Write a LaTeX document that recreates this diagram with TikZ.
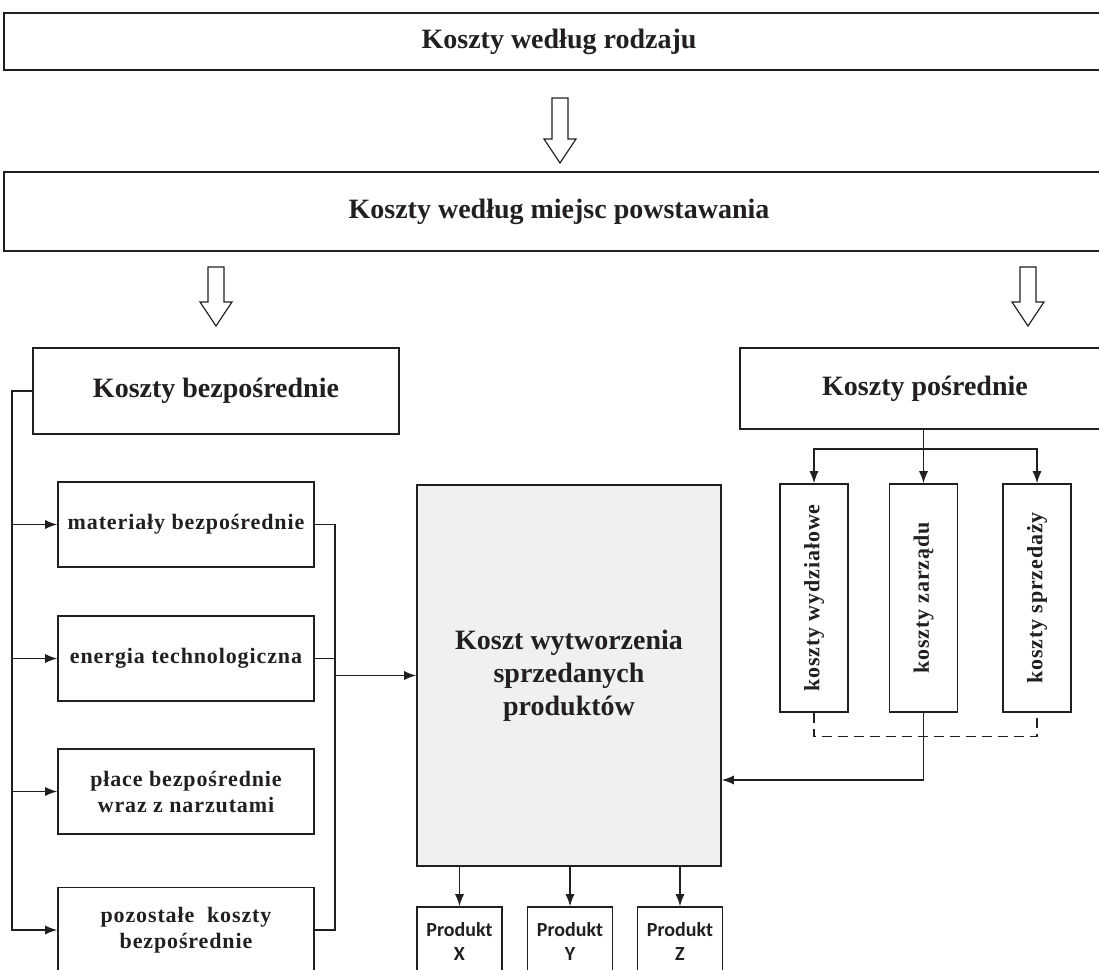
\documentclass[tikz,border=0pt]{standalone}
\usepackage{graphicx}
\usepackage{fontspec}
\setmainfont{Liberation Serif}
\newfontfamily\prodfont{Carlito}
\usepackage{tikz}
\usetikzlibrary{arrows.meta}

\definecolor{ink}{HTML}{231F20}
\definecolor{panel}{HTML}{F0F0F0}

\newcommand{\hollowarrow}[2]{%
  \draw[hollow] (#1) ++(-8,0) -- ++(16,0) -- ++(0,#2) -- ++(8,0) -- ++(-16,24) -- ++(-16,-24) -- ++(8,0) -- cycle;}

\begin{document}
\begin{tikzpicture}[x=0.5pt, y=-0.5pt, color=ink, line width=0.6pt, >={Latex[length=6pt,width=4.5pt]},
  box/.style={draw, line width=0.8pt, fill=white, align=center, inner sep=0pt, font=\bfseries\fontsize{14}{16.5}\selectfont},
  item/.style={box, minimum width=128pt, minimum height=42.5pt, font=\bfseries\fontsize{11}{13}\selectfont\addfontfeature{LetterSpace=4}},
  side/.style={box, minimum width=34pt, minimum height=114pt, font=\bfseries\fontsize{11}{13}\selectfont\addfontfeature{LetterSpace=4}},
  prod/.style={box, minimum width=42.5pt, minimum height=34pt, font=\prodfont\bfseries\fontsize{10}{12}\selectfont},
  hollow/.style={draw, line width=0.6pt, fill=white, line join=miter}]
\useasboundingbox (0,0) rectangle (1099,970);

\node[box, minimum width=555pt, minimum height=28.5pt] (rodzaj) at (559,41.5) {Koszty według rodzaju};
\node[box, minimum width=555pt, minimum height=39.5pt] (miejsca) at (559,211.5) {Koszty według miejsc powstawania};

\node[box, minimum width=183pt, minimum height=43pt] (bezp) at (216,391) {Koszty bezpośrednie};
\node[box, minimum width=185pt, minimum height=40.5pt] (posr) at (925,388.5) {Koszty pośrednie};

\node[item] (mat) at (186,524.5) {materiały bezpośrednie};
\node[item] (ene) at (186,658.5) {energia technologiczna};
\node[item] (pla) at (186,791.5) {płace bezpośrednie\\wraz z narzutami};
\node[item] (poz) at (186,930) {pozostałe\ \ koszty\\bezpośrednie};

\node[box, fill=panel, minimum width=152pt, minimum height=190.5pt] (kwsp) at (569,675.5) {Koszt wytworzenia\\sprzedanych\\produktów};

\node[side] (wyd) at (814,598) {\rotatebox{90}{koszty wydziałowe}};
\node[side] (zar) at (923.5,598) {\rotatebox{90}{koszty zarządu}};
\node[side] (spr) at (1037,598) {\rotatebox{90}{koszty sprzedaży}};

\node[prod] (px) at (459.5,941) {Produkt\\X};
\node[prod] (py) at (570,941) {Produkt\\Y};
\node[prod] (pz) at (680,941) {Produkt\\Z};

\coordinate (a1) at (560,98);
\coordinate (a2) at (216,267);
\coordinate (a3) at (1028,267);
\hollowarrow{a1}{41}
\hollowarrow{a2}{35}
\hollowarrow{a3}{35}

\coordinate (lbus) at (12,391);
\draw[->] (bezp.west) -- (lbus) |- (poz.west);
\foreach \n in {mat,ene,pla} \draw[->] (lbus |- \n.west) -- (\n.west);

\coordinate (rbus) at (335,524.5);
\draw (mat.east) -- (rbus) |- (poz.east);
\draw (ene.east) -- (rbus |- ene.east);
\draw[->] (rbus |- kwsp.west) -- (kwsp.west);

\coordinate (pbus) at (923.5,449);
\draw[->] (pbus |- posr.south) -- (zar.north);
\draw[->] (pbus) -| (wyd.north);
\draw[->] (pbus) -| (spr.north);
\draw[dash pattern=on 5pt off 3pt] (wyd.south) -- ++(0,24) -| (spr.south);

\coordinate (pret) at (kwsp.east |- 0,780);
\draw[->] (zar.south) |- (pret);

\foreach \p in {px,py,pz} \draw[->] (kwsp.south -| \p.north) -- (\p.north);

\end{tikzpicture}
\end{document}
